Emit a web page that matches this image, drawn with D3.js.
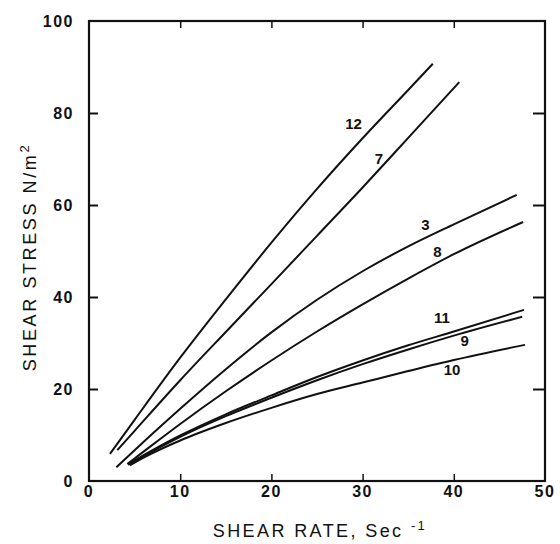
<!DOCTYPE html>
<html>
<head>
<meta charset="utf-8">
<script src="https://cdn.jsdelivr.net/npm/d3@7"></script>
<style>
  body { margin: 0; background: #fff; }
  text { font-family: "Liberation Sans", Arial, sans-serif; fill: #111; }
</style>
</head>
<body>
<div id="chart"></div>
<script>
const width = 560;
const height = 544;

// Curve data: [shear rate, shear stress]
const curve12 = [[2.3, 5.9], [5, 13.3], [10, 26.8], [15, 39.5], [20, 51.8], [25, 63.5], [30, 74.5], [35, 85], [37.7, 90.7]];
const curve7  = [[3.1, 6.7], [5, 10.9], [10, 21.9], [15, 32.4], [20, 42.8], [25, 53.3], [30, 63.8], [35, 74.6], [40.6, 86.7]];
const curve3  = [[3.0, 3.0], [5, 6.7], [10, 15.7], [15, 24.3], [20, 32.3], [25, 39.4], [30, 45.6], [35, 51.0], [40, 55.8], [46.9, 62.2]];
const curve8  = [[4.2, 3.7], [5, 4.9], [10, 12.4], [15, 19.5], [20, 26.2], [25, 32.5], [30, 38.4], [35, 44.0], [40, 49.3], [47.6, 56.3]];
const curve11 = [[4.3, 3.7], [5, 4.5], [10, 9.9], [15, 14.5], [20, 18.6], [25, 22.6], [30, 26.2], [35, 29.5], [40, 32.5], [47.7, 37.2]];
const curve9  = [[4.3, 3.5], [5, 4.3], [10, 9.6], [15, 14.1], [20, 18.1], [25, 21.9], [30, 25.4], [35, 28.6], [40, 31.6], [47.5, 35.7]];
const curve10 = [[4.5, 3.4], [5, 4.0], [10, 8.8], [15, 12.6], [20, 15.9], [25, 18.9], [30, 21.4], [35, 23.9], [40, 26.3], [47.8, 29.6]];

const curves = [curve12, curve7, curve3, curve8, curve11, curve9, curve10];

// Curve labels and where they sit, in data units
const labelText = ["12", "7", "3", "8", "11", "9", "10"];
const labelX = [29, 31.8, 36.9, 38.2, 38.7, 41.2, 39.8];
const labelY = [77.7, 70.0, 55.6, 49.8, 35.4, 30.4, 24.1];

const xTicks = [0, 10, 20, 30, 40, 50];
const yTicks = [0, 20, 40, 60, 80, 100];
const innerTicksX = [10, 20, 30, 40];
const innerTicksY = [20, 40, 60, 80];

const x = d3.scaleLinear().domain([0, 50]).range([89, 545]);
const y = d3.scaleLinear().domain([0, 100]).range([481, 21]);

const svg = d3.select("#chart").append("svg")
  .attr("width", width)
  .attr("height", height)
  .attr("viewBox", [0, 0, width, height]);

// Frame
svg.append("rect")
  .attr("x", x(0)).attr("y", y(100))
  .attr("width", x(50) - x(0)).attr("height", y(0) - y(100))
  .attr("fill", "none").attr("stroke", "#111").attr("stroke-width", 2.2);

// Inward ticks on all four sides
svg.append("g")
  .attr("transform", `translate(0,${y(0)})`)
  .call(d3.axisTop(x).tickValues(innerTicksX).tickSize(7).tickFormat(""))
  .call(g => g.select(".domain").remove())
  .selectAll("line").attr("stroke", "#111").attr("stroke-width", 1.5);

svg.append("g")
  .attr("transform", `translate(0,${y(100)})`)
  .call(d3.axisBottom(x).tickValues(innerTicksX).tickSize(7).tickFormat(""))
  .call(g => g.select(".domain").remove())
  .selectAll("line").attr("stroke", "#111").attr("stroke-width", 1.5);

svg.append("g")
  .attr("transform", `translate(${x(0)},0)`)
  .call(d3.axisRight(y).tickValues(innerTicksY).tickSize(9).tickFormat(""))
  .call(g => g.select(".domain").remove())
  .selectAll("line").attr("stroke", "#111").attr("stroke-width", 2);

svg.append("g")
  .attr("transform", `translate(${x(50)},0)`)
  .call(d3.axisLeft(y).tickValues(innerTicksY).tickSize(12).tickFormat(""))
  .call(g => g.select(".domain").remove())
  .selectAll("line").attr("stroke", "#111").attr("stroke-width", 2);

// Tick labels
svg.append("g").selectAll("text")
  .data(xTicks)
  .join("text")
    .attr("x", d => x(d))
    .attr("y", 497)
    .attr("text-anchor", "middle")
    .style("font-size", "16px")
    .style("font-weight", "bold")
    .style("letter-spacing", "1.5px")
    .text(d => d);

svg.append("g").selectAll("text")
  .data(yTicks)
  .join("text")
    .attr("x", 74)
    .attr("y", d => y(d) + 6)
    .attr("text-anchor", "end")
    .style("font-size", "16px")
    .style("font-weight", "bold")
    .style("letter-spacing", "1.5px")
    .text(d => d);

// Axis titles
const xTitle = svg.append("text")
  .attr("x", 320)
  .attr("y", 537)
  .attr("text-anchor", "middle")
  .style("font-size", "18px")
  .style("letter-spacing", "2.4px");
xTitle.append("tspan").text("SHEAR RATE, Sec ");
xTitle.append("tspan").attr("dy", -7).style("font-size", "13px").text("-1");

const yTitle = svg.append("text")
  .attr("transform", "translate(36,257) rotate(-90)")
  .attr("text-anchor", "middle")
  .style("font-size", "18px")
  .style("letter-spacing", "2.6px");
yTitle.append("tspan").text("SHEAR STRESS N/m");
yTitle.append("tspan").attr("dy", -7).style("font-size", "13px").text("2");

// Curves
const line = d3.line()
  .curve(d3.curveMonotoneX)
  .x(d => x(d[0]))
  .y(d => y(d[1]));

svg.append("g").selectAll("path")
  .data(curves)
  .join("path")
    .attr("d", line)
    .attr("fill", "none")
    .attr("stroke", "#111")
    .attr("stroke-width", 2);

// Curve labels
svg.append("g").selectAll("text")
  .data(labelText)
  .join("text")
    .attr("x", (d, i) => x(labelX[i]))
    .attr("y", (d, i) => y(labelY[i]) + 5)
    .attr("text-anchor", "middle")
    .style("font-size", "15px")
    .style("font-weight", "bold")
    .text(d => d);
</script>
</body>
</html>
